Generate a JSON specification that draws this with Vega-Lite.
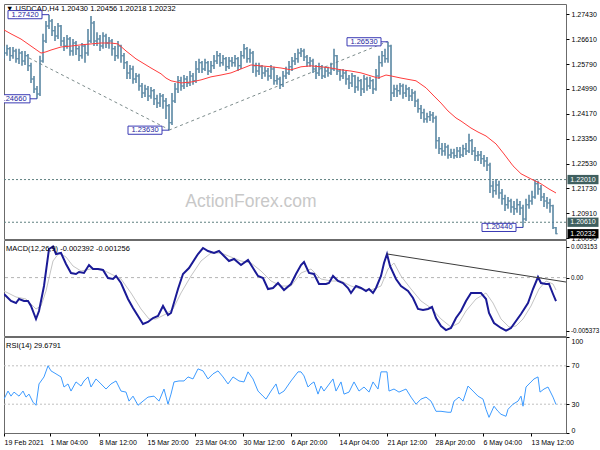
{
"$schema": "https://vega.github.io/schema/vega-lite/v6.json",
"background": "white",
"padding": {"left": 3, "top": 3, "right": 0, "bottom": 0},
"bounds": "flush",
"spacing": 1,
"datasets": {
"bars": [
{"t":3,"o":1.2623,"h":1.2639,"l":1.2597,"c":1.2616},
{"t":6,"o":1.2616,"h":1.2643,"l":1.2607,"c":1.2630},
{"t":9,"o":1.2630,"h":1.2636,"l":1.2590,"c":1.2607},
{"t":12,"o":1.2607,"h":1.2636,"l":1.2597,"c":1.2623},
{"t":15,"o":1.2623,"h":1.2630,"l":1.2584,"c":1.2597},
{"t":18,"o":1.2597,"h":1.2630,"l":1.2580,"c":1.2616},
{"t":21,"o":1.2616,"h":1.2623,"l":1.2574,"c":1.2590},
{"t":24,"o":1.2590,"h":1.2623,"l":1.2577,"c":1.2607},
{"t":27,"o":1.2607,"h":1.2613,"l":1.2557,"c":1.2574},
{"t":30,"o":1.2574,"h":1.2584,"l":1.2518,"c":1.2531},
{"t":33,"o":1.2531,"h":1.2541,"l":1.2485,"c":1.2498},
{"t":36,"o":1.2498,"h":1.2508,"l":1.2466,"c":1.2482},
{"t":39,"o":1.2482,"h":1.2607,"l":1.2475,"c":1.2590},
{"t":42,"o":1.2590,"h":1.2679,"l":1.2584,"c":1.2656},
{"t":45,"o":1.2656,"h":1.2721,"l":1.2649,"c":1.2705},
{"t":48,"o":1.2705,"h":1.2742,"l":1.2695,"c":1.2721},
{"t":51,"o":1.2721,"h":1.2728,"l":1.2672,"c":1.2689},
{"t":54,"o":1.2689,"h":1.2705,"l":1.2656,"c":1.2672},
{"t":57,"o":1.2672,"h":1.2715,"l":1.2662,"c":1.2705},
{"t":60,"o":1.2705,"h":1.2708,"l":1.2639,"c":1.2656},
{"t":63,"o":1.2656,"h":1.2669,"l":1.2623,"c":1.2639},
{"t":66,"o":1.2639,"h":1.2675,"l":1.2630,"c":1.2662},
{"t":69,"o":1.2662,"h":1.2669,"l":1.2607,"c":1.2623},
{"t":72,"o":1.2623,"h":1.2662,"l":1.2607,"c":1.2649},
{"t":75,"o":1.2649,"h":1.2656,"l":1.2610,"c":1.2630},
{"t":78,"o":1.2630,"h":1.2639,"l":1.2590,"c":1.2607},
{"t":81,"o":1.2607,"h":1.2649,"l":1.2597,"c":1.2639},
{"t":84,"o":1.2639,"h":1.2643,"l":1.2584,"c":1.2616},
{"t":87,"o":1.2616,"h":1.2695,"l":1.2607,"c":1.2656},
{"t":90,"o":1.2656,"h":1.2738,"l":1.2649,"c":1.2715},
{"t":93,"o":1.2715,"h":1.2721,"l":1.2639,"c":1.2656},
{"t":96,"o":1.2656,"h":1.2684,"l":1.2639,"c":1.2662},
{"t":99,"o":1.2662,"h":1.2675,"l":1.2623,"c":1.2639},
{"t":102,"o":1.2639,"h":1.2684,"l":1.2630,"c":1.2672},
{"t":105,"o":1.2672,"h":1.2679,"l":1.2633,"c":1.2649},
{"t":108,"o":1.2649,"h":1.2669,"l":1.2630,"c":1.2656},
{"t":111,"o":1.2656,"h":1.2662,"l":1.2607,"c":1.2630},
{"t":114,"o":1.2630,"h":1.2639,"l":1.2590,"c":1.2607},
{"t":117,"o":1.2607,"h":1.2656,"l":1.2597,"c":1.2639},
{"t":120,"o":1.2639,"h":1.2643,"l":1.2584,"c":1.2607},
{"t":123,"o":1.2607,"h":1.2616,"l":1.2564,"c":1.2584},
{"t":126,"o":1.2584,"h":1.2590,"l":1.2531,"c":1.2551},
{"t":129,"o":1.2551,"h":1.2577,"l":1.2531,"c":1.2564},
{"t":132,"o":1.2564,"h":1.2574,"l":1.2515,"c":1.2531},
{"t":135,"o":1.2531,"h":1.2551,"l":1.2518,"c":1.2541},
{"t":138,"o":1.2541,"h":1.2548,"l":1.2492,"c":1.2508},
{"t":141,"o":1.2508,"h":1.2518,"l":1.2469,"c":1.2485},
{"t":144,"o":1.2485,"h":1.2512,"l":1.2472,"c":1.2498},
{"t":147,"o":1.2498,"h":1.2508,"l":1.2459,"c":1.2475},
{"t":150,"o":1.2475,"h":1.2505,"l":1.2466,"c":1.2492},
{"t":153,"o":1.2492,"h":1.2498,"l":1.2446,"c":1.2466},
{"t":156,"o":1.2466,"h":1.2479,"l":1.2436,"c":1.2452},
{"t":159,"o":1.2452,"h":1.2485,"l":1.2439,"c":1.2475},
{"t":162,"o":1.2475,"h":1.2482,"l":1.2433,"c":1.2459},
{"t":165,"o":1.2459,"h":1.2469,"l":1.2400,"c":1.2443},
{"t":168,"o":1.2443,"h":1.2449,"l":1.2363,"c":1.2387},
{"t":171,"o":1.2387,"h":1.2485,"l":1.2380,"c":1.2459},
{"t":174,"o":1.2459,"h":1.2518,"l":1.2452,"c":1.2498},
{"t":177,"o":1.2498,"h":1.2541,"l":1.2485,"c":1.2525},
{"t":180,"o":1.2525,"h":1.2538,"l":1.2492,"c":1.2508},
{"t":183,"o":1.2508,"h":1.2544,"l":1.2498,"c":1.2531},
{"t":186,"o":1.2531,"h":1.2541,"l":1.2505,"c":1.2518},
{"t":189,"o":1.2518,"h":1.2557,"l":1.2508,"c":1.2541},
{"t":192,"o":1.2541,"h":1.2551,"l":1.2512,"c":1.2525},
{"t":195,"o":1.2525,"h":1.2590,"l":1.2518,"c":1.2564},
{"t":198,"o":1.2564,"h":1.2597,"l":1.2551,"c":1.2584},
{"t":201,"o":1.2584,"h":1.2590,"l":1.2551,"c":1.2564},
{"t":204,"o":1.2564,"h":1.2597,"l":1.2557,"c":1.2584},
{"t":207,"o":1.2584,"h":1.2590,"l":1.2544,"c":1.2557},
{"t":210,"o":1.2557,"h":1.2590,"l":1.2551,"c":1.2574},
{"t":213,"o":1.2574,"h":1.2610,"l":1.2564,"c":1.2590},
{"t":216,"o":1.2590,"h":1.2623,"l":1.2580,"c":1.2607},
{"t":219,"o":1.2607,"h":1.2616,"l":1.2571,"c":1.2584},
{"t":222,"o":1.2584,"h":1.2610,"l":1.2574,"c":1.2597},
{"t":225,"o":1.2597,"h":1.2603,"l":1.2557,"c":1.2571},
{"t":228,"o":1.2571,"h":1.2603,"l":1.2564,"c":1.2590},
{"t":231,"o":1.2590,"h":1.2603,"l":1.2571,"c":1.2584},
{"t":234,"o":1.2584,"h":1.2610,"l":1.2571,"c":1.2597},
{"t":237,"o":1.2597,"h":1.2603,"l":1.2557,"c":1.2574},
{"t":240,"o":1.2574,"h":1.2623,"l":1.2564,"c":1.2607},
{"t":243,"o":1.2607,"h":1.2646,"l":1.2597,"c":1.2630},
{"t":246,"o":1.2630,"h":1.2636,"l":1.2584,"c":1.2597},
{"t":249,"o":1.2597,"h":1.2630,"l":1.2584,"c":1.2616},
{"t":252,"o":1.2616,"h":1.2623,"l":1.2551,"c":1.2574},
{"t":255,"o":1.2574,"h":1.2584,"l":1.2538,"c":1.2557},
{"t":258,"o":1.2557,"h":1.2584,"l":1.2544,"c":1.2571},
{"t":261,"o":1.2571,"h":1.2577,"l":1.2531,"c":1.2551},
{"t":264,"o":1.2551,"h":1.2571,"l":1.2538,"c":1.2557},
{"t":267,"o":1.2557,"h":1.2567,"l":1.2525,"c":1.2541},
{"t":270,"o":1.2541,"h":1.2577,"l":1.2531,"c":1.2564},
{"t":273,"o":1.2564,"h":1.2571,"l":1.2512,"c":1.2525},
{"t":276,"o":1.2525,"h":1.2544,"l":1.2512,"c":1.2531},
{"t":279,"o":1.2531,"h":1.2538,"l":1.2498,"c":1.2512},
{"t":282,"o":1.2512,"h":1.2557,"l":1.2505,"c":1.2541},
{"t":285,"o":1.2541,"h":1.2571,"l":1.2531,"c":1.2551},
{"t":288,"o":1.2551,"h":1.2590,"l":1.2544,"c":1.2571},
{"t":291,"o":1.2571,"h":1.2603,"l":1.2557,"c":1.2590},
{"t":294,"o":1.2590,"h":1.2616,"l":1.2577,"c":1.2597},
{"t":297,"o":1.2597,"h":1.2630,"l":1.2584,"c":1.2616},
{"t":300,"o":1.2616,"h":1.2633,"l":1.2603,"c":1.2623},
{"t":303,"o":1.2623,"h":1.2630,"l":1.2590,"c":1.2603},
{"t":306,"o":1.2603,"h":1.2610,"l":1.2571,"c":1.2584},
{"t":309,"o":1.2584,"h":1.2603,"l":1.2571,"c":1.2590},
{"t":312,"o":1.2590,"h":1.2597,"l":1.2551,"c":1.2564},
{"t":315,"o":1.2564,"h":1.2577,"l":1.2531,"c":1.2551},
{"t":318,"o":1.2551,"h":1.2584,"l":1.2541,"c":1.2571},
{"t":321,"o":1.2571,"h":1.2577,"l":1.2531,"c":1.2541},
{"t":324,"o":1.2541,"h":1.2571,"l":1.2534,"c":1.2557},
{"t":327,"o":1.2557,"h":1.2571,"l":1.2538,"c":1.2551},
{"t":330,"o":1.2551,"h":1.2584,"l":1.2544,"c":1.2564},
{"t":333,"o":1.2564,"h":1.2630,"l":1.2557,"c":1.2607},
{"t":336,"o":1.2607,"h":1.2610,"l":1.2544,"c":1.2557},
{"t":339,"o":1.2557,"h":1.2564,"l":1.2525,"c":1.2541},
{"t":342,"o":1.2541,"h":1.2564,"l":1.2531,"c":1.2551},
{"t":345,"o":1.2551,"h":1.2557,"l":1.2512,"c":1.2531},
{"t":348,"o":1.2531,"h":1.2544,"l":1.2498,"c":1.2518},
{"t":351,"o":1.2518,"h":1.2551,"l":1.2505,"c":1.2541},
{"t":354,"o":1.2541,"h":1.2544,"l":1.2485,"c":1.2505},
{"t":357,"o":1.2505,"h":1.2538,"l":1.2492,"c":1.2525},
{"t":360,"o":1.2525,"h":1.2531,"l":1.2475,"c":1.2498},
{"t":363,"o":1.2498,"h":1.2544,"l":1.2485,"c":1.2531},
{"t":366,"o":1.2531,"h":1.2538,"l":1.2492,"c":1.2508},
{"t":369,"o":1.2508,"h":1.2538,"l":1.2498,"c":1.2525},
{"t":372,"o":1.2525,"h":1.2531,"l":1.2482,"c":1.2498},
{"t":375,"o":1.2498,"h":1.2564,"l":1.2492,"c":1.2541},
{"t":378,"o":1.2541,"h":1.2607,"l":1.2531,"c":1.2584},
{"t":381,"o":1.2584,"h":1.2623,"l":1.2571,"c":1.2607},
{"t":384,"o":1.2607,"h":1.2630,"l":1.2584,"c":1.2597},
{"t":387,"o":1.2597,"h":1.2653,"l":1.2584,"c":1.2639},
{"t":390,"o":1.2639,"h":1.2643,"l":1.2459,"c":1.2485},
{"t":393,"o":1.2485,"h":1.2512,"l":1.2472,"c":1.2498},
{"t":396,"o":1.2498,"h":1.2512,"l":1.2472,"c":1.2492},
{"t":399,"o":1.2492,"h":1.2518,"l":1.2479,"c":1.2508},
{"t":402,"o":1.2508,"h":1.2515,"l":1.2466,"c":1.2485},
{"t":405,"o":1.2485,"h":1.2512,"l":1.2472,"c":1.2498},
{"t":408,"o":1.2498,"h":1.2505,"l":1.2459,"c":1.2475},
{"t":411,"o":1.2475,"h":1.2498,"l":1.2459,"c":1.2485},
{"t":414,"o":1.2485,"h":1.2492,"l":1.2439,"c":1.2459},
{"t":417,"o":1.2459,"h":1.2466,"l":1.2420,"c":1.2433},
{"t":420,"o":1.2433,"h":1.2446,"l":1.2400,"c":1.2420},
{"t":423,"o":1.2420,"h":1.2433,"l":1.2387,"c":1.2400},
{"t":426,"o":1.2400,"h":1.2420,"l":1.2387,"c":1.2407},
{"t":429,"o":1.2407,"h":1.2426,"l":1.2393,"c":1.2413},
{"t":432,"o":1.2413,"h":1.2423,"l":1.2387,"c":1.2403},
{"t":435,"o":1.2403,"h":1.2410,"l":1.2302,"c":1.2328},
{"t":438,"o":1.2328,"h":1.2341,"l":1.2285,"c":1.2302},
{"t":441,"o":1.2302,"h":1.2321,"l":1.2279,"c":1.2295},
{"t":444,"o":1.2295,"h":1.2321,"l":1.2279,"c":1.2308},
{"t":447,"o":1.2308,"h":1.2315,"l":1.2269,"c":1.2282},
{"t":450,"o":1.2282,"h":1.2302,"l":1.2272,"c":1.2288},
{"t":453,"o":1.2288,"h":1.2302,"l":1.2269,"c":1.2279},
{"t":456,"o":1.2279,"h":1.2308,"l":1.2272,"c":1.2295},
{"t":459,"o":1.2295,"h":1.2308,"l":1.2272,"c":1.2282},
{"t":462,"o":1.2282,"h":1.2315,"l":1.2275,"c":1.2302},
{"t":465,"o":1.2302,"h":1.2321,"l":1.2282,"c":1.2295},
{"t":468,"o":1.2295,"h":1.2351,"l":1.2288,"c":1.2328},
{"t":471,"o":1.2328,"h":1.2334,"l":1.2282,"c":1.2295},
{"t":474,"o":1.2295,"h":1.2308,"l":1.2262,"c":1.2279},
{"t":477,"o":1.2279,"h":1.2295,"l":1.2262,"c":1.2282},
{"t":480,"o":1.2282,"h":1.2295,"l":1.2252,"c":1.2269},
{"t":483,"o":1.2269,"h":1.2282,"l":1.2243,"c":1.2262},
{"t":486,"o":1.2262,"h":1.2275,"l":1.2229,"c":1.2249},
{"t":489,"o":1.2249,"h":1.2256,"l":1.2157,"c":1.2180},
{"t":492,"o":1.2180,"h":1.2197,"l":1.2141,"c":1.2164},
{"t":495,"o":1.2164,"h":1.2203,"l":1.2151,"c":1.2183},
{"t":498,"o":1.2183,"h":1.2197,"l":1.2138,"c":1.2157},
{"t":501,"o":1.2157,"h":1.2170,"l":1.2118,"c":1.2138},
{"t":504,"o":1.2138,"h":1.2151,"l":1.2098,"c":1.2118},
{"t":507,"o":1.2118,"h":1.2144,"l":1.2105,"c":1.2131},
{"t":510,"o":1.2131,"h":1.2138,"l":1.2092,"c":1.2111},
{"t":513,"o":1.2111,"h":1.2131,"l":1.2085,"c":1.2105},
{"t":516,"o":1.2105,"h":1.2138,"l":1.2092,"c":1.2118},
{"t":519,"o":1.2118,"h":1.2131,"l":1.2085,"c":1.2108},
{"t":522,"o":1.2108,"h":1.2118,"l":1.2044,"c":1.2072},
{"t":525,"o":1.2072,"h":1.2138,"l":1.2065,"c":1.2118},
{"t":528,"o":1.2118,"h":1.2151,"l":1.2105,"c":1.2131},
{"t":531,"o":1.2131,"h":1.2164,"l":1.2118,"c":1.2144},
{"t":534,"o":1.2144,"h":1.2201,"l":1.2138,"c":1.2187},
{"t":537,"o":1.2187,"h":1.2197,"l":1.2151,"c":1.2170},
{"t":540,"o":1.2170,"h":1.2183,"l":1.2131,"c":1.2144},
{"t":543,"o":1.2144,"h":1.2157,"l":1.2111,"c":1.2131},
{"t":546,"o":1.2131,"h":1.2144,"l":1.2105,"c":1.2124},
{"t":549,"o":1.2124,"h":1.2138,"l":1.2092,"c":1.2115},
{"t":552,"o":1.2115,"h":1.2118,"l":1.2039,"c":1.2043},
{"t":555,"o":1.2043,"h":1.20456,"l":1.20218,"c":1.20232}
],
"ma": [
{"t":3,"v":1.2692},{"t":10,"v":1.2679},{"t":20,"v":1.2662},{"t":30,"v":1.2639},{"t":40,"v":1.2616},{"t":45,"v":1.2620},{"t":50,"v":1.2626},{"t":60,"v":1.2636},{"t":70,"v":1.2639},{"t":80,"v":1.2643},{"t":90,"v":1.2646},{"t":100,"v":1.2649},{"t":110,"v":1.2649},{"t":117,"v":1.2646},{"t":125,"v":1.2623},{"t":135,"v":1.2597},{"t":145,"v":1.2577},{"t":150,"v":1.2567},{"t":160,"v":1.2548},{"t":165,"v":1.2534},{"t":170,"v":1.2525},{"t":180,"v":1.2518},{"t":190,"v":1.2521},{"t":200,"v":1.2528},{"t":210,"v":1.2538},{"t":220,"v":1.2544},{"t":230,"v":1.2551},{"t":240,"v":1.2564},{"t":250,"v":1.2577},{"t":260,"v":1.2574},{"t":270,"v":1.2571},{"t":280,"v":1.2567},{"t":290,"v":1.2561},{"t":300,"v":1.2571},{"t":310,"v":1.2574},{"t":320,"v":1.2571},{"t":330,"v":1.2567},{"t":340,"v":1.2561},{"t":350,"v":1.2557},{"t":360,"v":1.2551},{"t":370,"v":1.2541},{"t":377,"v":1.2534},{"t":385,"v":1.2544},{"t":390,"v":1.2541},{"t":400,"v":1.2534},{"t":410,"v":1.2528},{"t":415,"v":1.2525},{"t":425,"v":1.2502},{"t":433,"v":1.2475},{"t":440,"v":1.2452},{"t":447,"v":1.2426},{"t":455,"v":1.2403},{"t":460,"v":1.2393},{"t":470,"v":1.2370},{"t":477,"v":1.2357},{"t":485,"v":1.2344},{"t":495,"v":1.2318},{"t":503,"v":1.2285},{"t":512,"v":1.2246},{"t":520,"v":1.2220},{"t":530,"v":1.2203},{"t":540,"v":1.2187},{"t":548,"v":1.2170},{"t":555,"v":1.2157}
],
"trend": [
{"g":1,"t":28,"p":1.2600},{"g":1,"t":168,"p":1.2365},{"g":2,"t":168,"p":1.2363},{"g":2,"t":386,"p":1.2653}
],
"levels": [{"p":1.2201},{"p":1.2061}],
"notes": [
{"t":48,"p":1.2742,"label":"1.27420"},
{"t":36,"p":1.2466,"label":"1.24660"},
{"t":168,"p":1.2363,"label":"1.23630"},
{"t":387,"p":1.2653,"label":"1.26530"},
{"t":522,"p":1.2044,"label":"1.20440"}
],
"tags": [
{"p":1.2201,"label":"1.22010","kind":"line"},
{"p":1.2061,"label":"1.20610","kind":"line"},
{"p":1.20232,"label":"1.20232","kind":"last"}
],
"macd": [
{"t":3,"v":-0.001665},{"t":5,"v":-0.001868},{"t":10,"v":-0.002375},{"t":15,"v":-0.002578},{"t":18,"v":-0.002172},{"t":23,"v":-0.002375},{"t":27,"v":-0.002375},{"t":30,"v":-0.002883},{"t":35,"v":-0.004202},{"t":38,"v":-0.003390},{"t":43,"v":-0.000853},{"t":48,"v":0.002903},{"t":52,"v":0.003153},{"t":55,"v":0.002395},{"t":60,"v":0.002497},{"t":65,"v":0.001380},{"t":70,"v":0.000467},{"t":75,"v":0.000365},{"t":78,"v":0.000568},{"t":83,"v":0.000467},{"t":88,"v":0.001279},{"t":92,"v":0.000873},{"t":97,"v":0.000873},{"t":102,"v":0.000771},{"t":107,"v":-0.000041},{"t":112,"v":-0.000142},{"t":115,"v":0.000162},{"t":120,"v":-0.000548},{"t":127,"v":-0.002172},{"t":132,"v":-0.003086},{"t":137,"v":-0.003898},{"t":142,"v":-0.004710},{"t":147,"v":-0.004507},{"t":152,"v":-0.004101},{"t":157,"v":-0.003898},{"t":162,"v":-0.002883},{"t":167,"v":-0.003796},{"t":170,"v":-0.003593},{"t":177,"v":-0.001157},{"t":182,"v":0.000365},{"t":188,"v":0.000974},{"t":197,"v":0.002395},{"t":202,"v":0.003004},{"t":207,"v":0.002700},{"t":213,"v":0.002497},{"t":218,"v":0.002700},{"t":223,"v":0.002192},{"t":228,"v":0.001685},{"t":233,"v":0.001888},{"t":240,"v":0.001279},{"t":247,"v":0.001786},{"t":252,"v":0.000974},{"t":257,"v":0.000162},{"t":262,"v":-0.000041},{"t":267,"v":-0.001157},{"t":272,"v":-0.001056},{"t":277,"v":-0.000548},{"t":283,"v":-0.001259},{"t":290,"v":-0.000650},{"t":295,"v":0.000365},{"t":300,"v":0.001279},{"t":303,"v":0.001583},{"t":308,"v":0.000467},{"t":313,"v":0.000365},{"t":318,"v":-0.000650},{"t":325,"v":-0.000650},{"t":328,"v":-0.000548},{"t":332,"v":0.000162},{"t":337,"v":-0.000345},{"t":342,"v":-0.000548},{"t":347,"v":-0.001056},{"t":350,"v":-0.001563},{"t":355,"v":-0.000853},{"t":360,"v":-0.001056},{"t":365,"v":-0.001360},{"t":368,"v":-0.001157},{"t":372,"v":-0.001563},{"t":375,"v":-0.001056},{"t":380,"v":0.000162},{"t":383,"v":0.001482},{"t":386,"v":0.002395},{"t":389,"v":0.001177},{"t":395,"v":-0.000142},{"t":400,"v":-0.000853},{"t":407,"v":-0.001360},{"t":412,"v":-0.002071},{"t":417,"v":-0.003187},{"t":422,"v":-0.003289},{"t":427,"v":-0.003187},{"t":431,"v":-0.002984},{"t":435,"v":-0.004101},{"t":440,"v":-0.004913},{"t":445,"v":-0.005330},{"t":450,"v":-0.005116},{"t":455,"v":-0.004101},{"t":460,"v":-0.003390},{"t":465,"v":-0.002375},{"t":470,"v":-0.001563},{"t":475,"v":-0.001563},{"t":480,"v":-0.001563},{"t":485,"v":-0.002172},{"t":488,"v":-0.003593},{"t":493,"v":-0.004608},{"t":500,"v":-0.005116},{"t":505,"v":-0.005373},{"t":510,"v":-0.005116},{"t":515,"v":-0.004405},{"t":520,"v":-0.003695},{"t":527,"v":-0.002578},{"t":532,"v":-0.001157},{"t":537,"v":0.000061},{"t":540,"v":-0.000548},{"t":545,"v":-0.000650},{"t":548,"v":-0.000650},{"t":552,"v":-0.001665},{"t":555,"v":-0.002392}
],
"signal": [
{"t":3,"v":-0.001360},{"t":15,"v":-0.001969},{"t":25,"v":-0.002172},{"t":35,"v":-0.003187},{"t":40,"v":-0.002883},{"t":45,"v":-0.001360},{"t":52,"v":0.001685},{"t":58,"v":0.002497},{"t":65,"v":0.002091},{"t":72,"v":0.001177},{"t":80,"v":0.000670},{"t":90,"v":0.000873},{"t":100,"v":0.000873},{"t":110,"v":0.000365},{"t":120,"v":-0.000142},{"t":130,"v":-0.001563},{"t":140,"v":-0.003187},{"t":148,"v":-0.004202},{"t":155,"v":-0.004202},{"t":165,"v":-0.003695},{"t":172,"v":-0.003187},{"t":180,"v":-0.001563},{"t":190,"v":0.000162},{"t":200,"v":0.001685},{"t":210,"v":0.002497},{"t":220,"v":0.002497},{"t":230,"v":0.002091},{"t":240,"v":0.001685},{"t":250,"v":0.001482},{"t":260,"v":0.000670},{"t":270,"v":-0.000345},{"t":280,"v":-0.000853},{"t":290,"v":-0.000853},{"t":300,"v":0.000467},{"t":310,"v":0.000873},{"t":320,"v":-0.000142},{"t":330,"v":-0.000345},{"t":340,"v":-0.000345},{"t":350,"v":-0.000853},{"t":360,"v":-0.001157},{"t":370,"v":-0.001259},{"t":380,"v":-0.000853},{"t":387,"v":0.000873},{"t":393,"v":0.001482},{"t":400,"v":0.000162},{"t":410,"v":-0.001157},{"t":420,"v":-0.002375},{"t":430,"v":-0.003086},{"t":440,"v":-0.004202},{"t":450,"v":-0.005014},{"t":458,"v":-0.004608},{"t":465,"v":-0.003390},{"t":475,"v":-0.002172},{"t":485,"v":-0.001563},{"t":492,"v":-0.002578},{"t":500,"v":-0.004202},{"t":508,"v":-0.005014},{"t":515,"v":-0.004913},{"t":522,"v":-0.004202},{"t":530,"v":-0.002883},{"t":538,"v":-0.001157},{"t":545,"v":-0.000345},{"t":552,"v":-0.000650},{"t":555,"v":-0.001256}
],
"mtrend": [{"t":386,"v":0.00240},{"t":565,"v":-0.00045}],
"rsi": [
{"t":3,"v":35.3},{"t":7,"v":43.7},{"t":10,"v":38.4},{"t":13,"v":42.6},{"t":18,"v":38.4},{"t":22,"v":43.7},{"t":25,"v":37.4},{"t":28,"v":40.5},{"t":32,"v":32.1},{"t":35,"v":28.9},{"t":38,"v":51.1},{"t":43,"v":58.4},{"t":47,"v":70.0},{"t":50,"v":64.7},{"t":55,"v":61.6},{"t":60,"v":58.4},{"t":63,"v":47.9},{"t":67,"v":51.1},{"t":70,"v":43.7},{"t":75,"v":53.2},{"t":80,"v":48.9},{"t":83,"v":54.2},{"t":87,"v":58.4},{"t":90,"v":47.9},{"t":95,"v":56.3},{"t":100,"v":51.1},{"t":105,"v":45.8},{"t":110,"v":51.1},{"t":115,"v":54.2},{"t":120,"v":43.7},{"t":125,"v":42.6},{"t":128,"v":33.2},{"t":132,"v":38.4},{"t":137,"v":28.9},{"t":142,"v":33.2},{"t":147,"v":37.4},{"t":153,"v":38.4},{"t":158,"v":33.2},{"t":163,"v":45.8},{"t":167,"v":30.0},{"t":170,"v":40.5},{"t":173,"v":53.2},{"t":178,"v":54.2},{"t":183,"v":54.2},{"t":187,"v":58.4},{"t":192,"v":56.3},{"t":197,"v":66.8},{"t":202,"v":64.7},{"t":207,"v":56.3},{"t":212,"v":61.6},{"t":217,"v":64.7},{"t":222,"v":58.4},{"t":227,"v":51.1},{"t":232,"v":58.4},{"t":238,"v":54.2},{"t":243,"v":53.2},{"t":247,"v":63.7},{"t":252,"v":56.3},{"t":257,"v":43.7},{"t":262,"v":38.4},{"t":265,"v":35.3},{"t":270,"v":43.7},{"t":275,"v":51.1},{"t":278,"v":40.5},{"t":283,"v":43.7},{"t":290,"v":54.2},{"t":297,"v":63.7},{"t":300,"v":63.7},{"t":303,"v":59.5},{"t":307,"v":47.9},{"t":310,"v":51.1},{"t":313,"v":53.2},{"t":317,"v":40.5},{"t":320,"v":48.9},{"t":323,"v":43.7},{"t":332,"v":56.3},{"t":335,"v":43.7},{"t":340,"v":53.2},{"t":343,"v":40.5},{"t":348,"v":42.6},{"t":353,"v":53.2},{"t":358,"v":43.7},{"t":363,"v":47.9},{"t":368,"v":42.6},{"t":372,"v":53.2},{"t":377,"v":45.8},{"t":380,"v":63.7},{"t":386,"v":63.7},{"t":388,"v":43.7},{"t":393,"v":45.8},{"t":398,"v":42.6},{"t":405,"v":45.8},{"t":410,"v":37.4},{"t":415,"v":30.0},{"t":420,"v":35.3},{"t":425,"v":37.4},{"t":430,"v":33.2},{"t":435,"v":22.6},{"t":440,"v":22.6},{"t":447,"v":21.6},{"t":450,"v":21.6},{"t":453,"v":33.2},{"t":458,"v":37.4},{"t":462,"v":33.2},{"t":467,"v":48.9},{"t":472,"v":43.7},{"t":477,"v":38.4},{"t":482,"v":35.3},{"t":485,"v":24.7},{"t":488,"v":16.3},{"t":493,"v":27.9},{"t":497,"v":22.6},{"t":500,"v":19.5},{"t":505,"v":17.4},{"t":507,"v":24.7},{"t":512,"v":30.0},{"t":517,"v":33.2},{"t":520,"v":38.4},{"t":522,"v":27.9},{"t":525,"v":47.9},{"t":530,"v":53.2},{"t":533,"v":56.3},{"t":537,"v":58.4},{"t":539,"v":42.6},{"t":543,"v":45.8},{"t":547,"v":47.9},{"t":552,"v":37.4},{"t":555,"v":29.68}
]
},
"vconcat": [
{
"width": 562, "height": 235,
"layer": [
{"data": {"name": "levels"}, "mark": {"type": "rule", "color": "#5f8080", "strokeDash": [2, 2], "strokeWidth": 1},
 "encoding": {"y": {"field": "p", "type": "quantitative", "scale": {"domain": [1.2006, 1.2777], "nice": false, "zero": false},
  "axis": {"orient": "right", "values": [1.2743, 1.2661, 1.2579, 1.2499, 1.2417, 1.2335, 1.2253, 1.2173, 1.2091, 1.2009], "tickCount": 30, "format": ".5f", "labelFlush": false, "labelOverlap": false}}}},
{"data": {"name": "trend"}, "mark": {"type": "line", "color": "#7d8c8c", "strokeDash": [3, 3], "strokeWidth": 1, "clip": true},
 "encoding": {"x": {"field": "t", "type": "quantitative", "scale": {"domain": [3, 565], "nice": false, "zero": false}, "axis": null},
  "y": {"field": "p", "type": "quantitative"}, "detail": {"field": "g"}}},
{"data": {"values": [{}]}, "mark": {"type": "text", "text": "ActionForex.com", "fontSize": 17.5, "color": "#c8c8c8", "font": "Liberation Sans"},
 "encoding": {"x": {"datum": 250}, "y": {"datum": 1.2128}}},
{"data": {"values": [{}]}, "mark": {"type": "text", "text": "▼ USDCAD,H4 1.20430 1.20456 1.20218 1.20232", "fontSize": 7.5, "color": "#000000", "align": "left", "baseline": "alphabetic", "dx": 2, "dy": 7, "font": "Liberation Sans"},
 "encoding": {"x": {"datum": 3}, "y": {"datum": 1.2777}}},
{"data": {"name": "bars"}, "mark": {"type": "rule", "color": "#4f7f9c", "strokeWidth": 1.5, "clip": true},
 "encoding": {"x": {"field": "t", "type": "quantitative"}, "y": {"field": "l", "type": "quantitative"}, "y2": {"field": "h"}}},
{"data": {"name": "bars"}, "mark": {"type": "tick", "orient": "horizontal", "color": "#4f7f9c", "size": 2, "thickness": 1, "xOffset": -1, "clip": true},
 "encoding": {"x": {"field": "t", "type": "quantitative"}, "y": {"field": "o", "type": "quantitative"}}},
{"data": {"name": "bars"}, "mark": {"type": "tick", "orient": "horizontal", "color": "#4f7f9c", "size": 2, "thickness": 1, "xOffset": 1, "clip": true},
 "encoding": {"x": {"field": "t", "type": "quantitative"}, "y": {"field": "c", "type": "quantitative"}}},
{"data": {"name": "ma"}, "mark": {"type": "line", "color": "#ff3c3c", "strokeWidth": 1, "clip": true},
 "encoding": {"x": {"field": "t", "type": "quantitative"}, "y": {"field": "v", "type": "quantitative"}}},
{"data": {"name": "notes"}, "mark": {"type": "rule", "color": "#3a3ab4", "strokeWidth": 1, "xOffset": -7, "x2Offset": 0, "clip": true},
 "encoding": {"x": {"field": "t", "type": "quantitative"}, "x2": {"field": "t"}, "y": {"field": "p", "type": "quantitative"}}},
{"data": {"name": "notes"}, "mark": {"type": "point", "shape": "M-1,-0.24H1V0.24H-1Z", "size": 1156, "filled": true, "fill": "#ffffff", "stroke": "#3a3ab4", "strokeWidth": 1, "opacity": 1, "xOffset": -24, "clip": true},
 "encoding": {"x": {"field": "t", "type": "quantitative"}, "y": {"field": "p", "type": "quantitative"}}},
{"data": {"name": "notes"}, "mark": {"type": "text", "fontSize": 7.5, "color": "#26269e", "dx": -24, "align": "center", "baseline": "middle", "clip": true, "font": "Liberation Sans"},
 "encoding": {"x": {"field": "t", "type": "quantitative"}, "y": {"field": "p", "type": "quantitative"}, "text": {"field": "label"}}},
{"data": {"name": "tags"}, "mark": {"type": "point", "shape": "M-1,-0.3H1V0.3H-1Z", "size": 961, "filled": true, "opacity": 1, "strokeWidth": 0},
 "encoding": {"x": {"datum": 582}, "y": {"field": "p", "type": "quantitative"},
  "color": {"field": "kind", "type": "nominal", "scale": {"domain": ["line", "last"], "range": ["#3f5f5f", "#000000"]}, "legend": null}}},
{"data": {"name": "tags"}, "mark": {"type": "text", "fontSize": 7, "color": "#ffffff", "align": "center", "baseline": "middle", "font": "Liberation Sans"},
 "encoding": {"x": {"datum": 582}, "y": {"field": "p", "type": "quantitative"}, "text": {"field": "label"}}}
]
},
{
"width": 562, "height": 96,
"layer": [
{"data": {"values": [{"v": 0}]}, "mark": {"type": "rule", "color": "#b4b4b4", "strokeDash": [3, 3], "strokeWidth": 1},
 "encoding": {"y": {"field": "v", "type": "quantitative", "scale": {"domain": [-0.005928, 0.003816], "nice": false, "zero": false},
  "axis": {"orient": "right", "values": [0.003153, 0, -0.005373], "tickCount": 30, "labelFontSize": 6.3, "labelPadding": 1.5, "labelExpr": "datum.value > 0.001 ? '0.003153' : datum.value < -0.001 ? '-0.005373' : '0.00'", "labelFlush": false, "labelOverlap": false}}}},
{"data": {"name": "signal"}, "mark": {"type": "line", "color": "#c4c4c4", "strokeWidth": 1, "clip": true},
 "encoding": {"x": {"field": "t", "type": "quantitative", "scale": {"domain": [3, 565], "nice": false, "zero": false}, "axis": null}, "y": {"field": "v", "type": "quantitative"}}},
{"data": {"name": "macd"}, "mark": {"type": "line", "color": "#1a1a96", "strokeWidth": 2, "clip": true},
 "encoding": {"x": {"field": "t", "type": "quantitative"}, "y": {"field": "v", "type": "quantitative"}}},
{"data": {"name": "mtrend"}, "mark": {"type": "line", "color": "#3c3c3c", "strokeWidth": 1, "clip": true},
 "encoding": {"x": {"field": "t", "type": "quantitative"}, "y": {"field": "v", "type": "quantitative"}}},
{"data": {"values": [{}]}, "mark": {"type": "text", "text": "MACD(12,26,9) -0.002392 -0.001256", "fontSize": 7.5, "color": "#000000", "align": "left", "baseline": "alphabetic", "dx": 2, "dy": 11, "font": "Liberation Sans"},
 "encoding": {"x": {"datum": 3}, "y": {"datum": 0.003816}}}
]
},
{
"width": 562, "height": 96,
"layer": [
{"data": {"values": [{"v": 70}, {"v": 30}]}, "mark": {"type": "rule", "color": "#c0c0c0", "strokeDash": [2, 2], "strokeWidth": 1},
 "encoding": {"y": {"field": "v", "type": "quantitative", "scale": {"domain": [0, 100], "nice": false, "zero": false},
  "axis": {"orient": "right", "values": [0, 30, 70, 100], "tickCount": 30, "labelFlush": true, "labelFlushOffset": 0, "labelOverlap": false}}}},
{"data": {"name": "rsi"}, "mark": {"type": "line", "color": "#3d9bff", "strokeWidth": 1, "clip": true},
 "encoding": {"x": {"field": "t", "type": "quantitative", "scale": {"domain": [3, 565], "nice": false, "zero": false},
  "axis": {"orient": "bottom", "values": [3, 49, 98, 146, 194, 242, 290, 338, 386, 434, 482, 530], "tickCount": 30,
   "labelExpr": "['19 Feb 2021','1 Mar 04:00','8 Mar 12:00','15 Mar 20:00','23 Mar 04:00','30 Mar 12:00','6 Apr 20:00','14 Apr 04:00','21 Apr 12:00','28 Apr 20:00','6 May 04:00','13 May 12:00'][indexof([3,49,98,146,194,242,290,338,386,434,482,530], datum.value)]",
   "labelAlign": "left", "labelDx": 1, "labelFlush": false, "labelOverlap": false}},
  "y": {"field": "v", "type": "quantitative"}}},
{"data": {"values": [{}]}, "mark": {"type": "text", "text": "RSI(14) 29.6791", "fontSize": 7.5, "color": "#000000", "align": "left", "baseline": "alphabetic", "dx": 2, "dy": 11, "font": "Liberation Sans"},
 "encoding": {"x": {"datum": 3}, "y": {"datum": 100}}}
]
}
],
"resolve": {"scale": {"x": "independent", "y": "independent"}},
"config": {
 "font": "Liberation Sans",
 "view": {"stroke": "#6b6b6b", "strokeWidth": 1},
 "axis": {"grid": false, "domain": false, "ticks": true, "tickColor": "#000000", "tickSize": 3, "labelFontSize": 7, "labelColor": "#000000", "labelPadding": 2, "title": null, "labelOverlap": false, "labelBound": false}
}
}
